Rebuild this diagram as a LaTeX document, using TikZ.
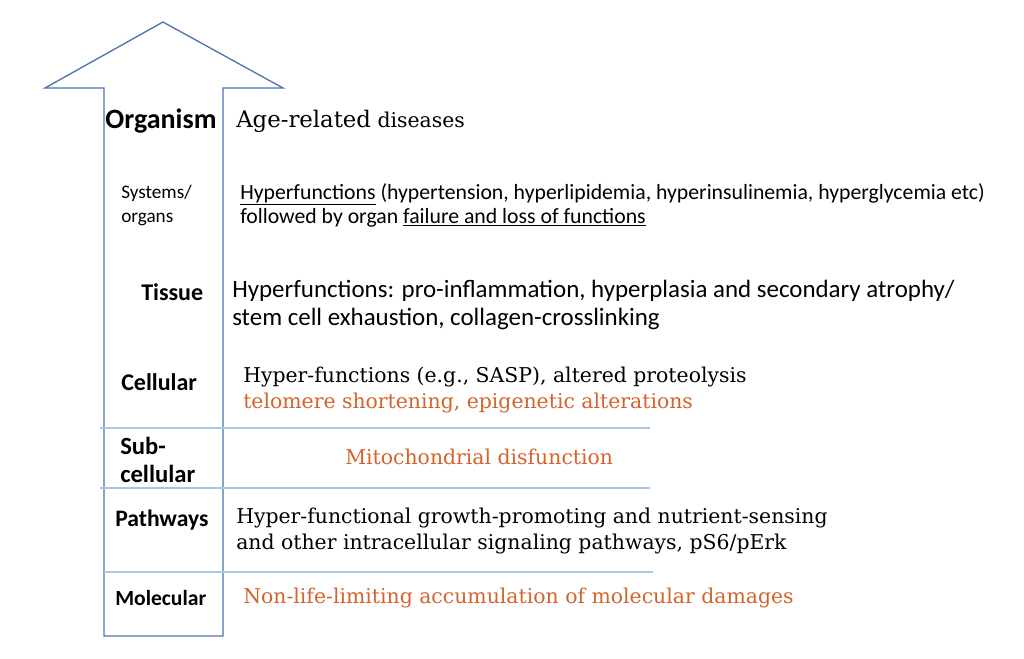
\documentclass[tikz,border=0pt]{standalone}
\usepackage{fontspec}
\setmainfont{Carlito}
\newfontfamily\slabfont{DejaVu Serif}
\definecolor{arrowblue}{HTML}{4F73AC}
\definecolor{lineblue}{HTML}{A9C4E6}
\definecolor{rust}{HTML}{D2642C}

\begin{document}
\begin{tikzpicture}[x=0.75pt, y=-0.75pt]
        \tikzstyle{level}=[font=\bfseries\fontsize{18}{21}\selectfont, align=left, anchor=west, inner sep=0pt];
        \tikzstyle{desc}=[font=\fontsize{18.7}{21}\selectfont, align=left, anchor=west, inner sep=0pt];
        \tikzstyle{slab}=[font=\slabfont\fontsize{15.3}{19}\selectfont, align=left, anchor=west, inner sep=0pt];
        \tikzstyle{sep}=[lineblue, line width=1.2pt];

        \useasboundingbox (0,0) rectangle (1024,658);

        % big arrow
        \draw[arrowblue, line width=1pt] (104,636) -- (104,88) -- (45,88) -- (163,22)
            -- (283,88) -- (223,88) -- (223,636) -- cycle;

        % level separators
        \draw[sep] (100,428) -- (650,428);
        \draw[sep] (100,488) -- (650,488);
        \draw[sep] (104,572) -- (653,572);

        % levels
        \node[level, anchor=center, font=\bfseries\fontsize{21}{24}\selectfont] (organism) at (161,121) {Organism};
        \node[level, font=\fontsize{14.4}{18}\selectfont] (systems) at (121,205) {Systems/\\organs};
        \node[level] (tissue) at (141,292) {Tissue};
        \node[level] (cellular) at (121,382) {Cellular};
        \node[level, font=\bfseries\fontsize{18.5}{21}\selectfont] (subcell) at (120,460) {Sub-\\cellular};
        \node[level, font=\bfseries\fontsize{17.7}{21}\selectfont] (pathways) at (115,520) {Pathways};
        \node[level, font=\bfseries\fontsize{16.2}{20}\selectfont] (molecular) at (115,598) {Molecular};

        % descriptions
        \node[slab] (disease) at (236,121) {{\fontsize{17.1}{20}\selectfont Age-related} diseases};
        \node[desc, font=\fontsize{16.3}{18}\selectfont] (hyperorg) at (240,205)
            {\underline{Hyperfunctions} (hypertension, hyperlipidemia, hyperinsulinemia, hyperglycemia etc)\\
             followed by organ \underline{failure and loss of functions}};
        \node[desc] (hypertis) at (232,305)
            {Hyperfunctions: pro-inflammation, hyperplasia and secondary atrophy/\\
             stem cell exhaustion, collagen-crosslinking};
        \node[slab] (hypercell) at (243,390)
            {Hyper-functions (e.g., SASP), altered proteolysis\\
             \textcolor{rust}{telomere shortening, epigenetic alterations}};
        \node[slab, text=rust] (mito) at (345,457) {Mitochondrial disfunction};
        \node[slab, font=\slabfont\fontsize{15.3}{19.5}\selectfont] (hyperpath) at (236,531)
            {Hyper-functional growth-promoting and nutrient-sensing\\
             and other intracellular signaling pathways, pS6/pErk};
        \node[slab, text=rust] (damage) at (243,598) {Non-life-limiting accumulation of molecular damages};
    \end{tikzpicture}
\end{document}
